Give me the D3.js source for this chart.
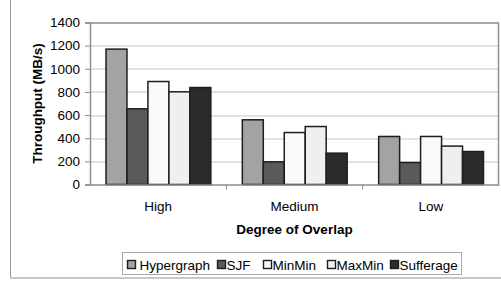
<!DOCTYPE html>
<html>
<head>
<meta charset="utf-8">
<script src="https://cdn.jsdelivr.net/npm/d3@7"></script>
<style>
  body { margin: 0; background: #fff; }
  svg text { font-family: "Liberation Sans", Arial, sans-serif; fill: #000; }
</style>
</head>
<body>
<svg id="chart" width="501" height="283"></svg>
<script>
// data
var categories = ["High", "Medium", "Low"];
var seriesNames = ["Hypergraph", "SJF", "MinMin", "MaxMin", "Sufferage"];
var hypergraph = [1170, 559, 415];
var sjf = [654, 196, 190];
var minmin = [890, 449, 415];
var maxmin = [801, 501, 332];
var sufferage = [838, 271, 285];
var yTicks = [0, 200, 400, 600, 800, 1000, 1200, 1400];

var series = [hypergraph, sjf, minmin, maxmin, sufferage];
var colors = ["#a3a3a3", "#5a5a5a", "#f9f9f9", "#efefef", "#2b2b2b"];

var margin = {left: 90, top: 22.5, right: 2, bottom: 98.5},
    width = 501, height = 283,
    g_width = width - margin.left - margin.right,
    g_height = height - margin.top - margin.bottom;

var svg = d3.select("#chart");

// outer frame (only left and bottom edges show)
svg.append("line").attr("x1", 10.5).attr("x2", 10.5).attr("y1", 0).attr("y2", 278)
  .attr("stroke", "#999").attr("stroke-width", 1);
svg.append("line").attr("x1", 10).attr("x2", 501).attr("y1", 278).attr("y2", 278)
  .attr("stroke", "#c8c8c8").attr("stroke-width", 2);

var g = svg.append("g").attr("transform", "translate(" + margin.left + "," + margin.top + ")");

var x0 = d3.scaleBand().domain(categories).range([0, g_width]).paddingInner(0).paddingOuter(0);
var x1 = d3.scaleBand().domain(seriesNames).range([16, x0.bandwidth() - 15.5]);
var y = d3.scaleLinear().domain([0, 1400]).range([g_height, 0]);

// gridlines
g.selectAll(".grid").data(yTicks.filter(function(d){ return d > 0 && d < 1400; }))
  .enter().append("line")
  .attr("x1", 0).attr("x2", g_width)
  .attr("y1", function(d){ return Math.round(y(d)) + 0.5; })
  .attr("y2", function(d){ return Math.round(y(d)) + 0.5; })
  .attr("stroke", "#c6c6c6").attr("stroke-width", 1.2);

// plot box top and right
g.append("path")
  .attr("d", "M0," + 0.5 + "H" + (g_width - 0.5) + "V" + g_height)
  .attr("fill", "none").attr("stroke", "#8a8a8a").attr("stroke-width", 1.4);

// bars
var groups = g.selectAll(".grp").data(categories).enter().append("g")
  .attr("transform", function(d){ return "translate(" + x0(d) + ",0)"; });

groups.selectAll("rect").data(function(c, ci){
    return seriesNames.map(function(s, si){ return {s: s, si: si, v: series[si][ci]}; });
  })
  .enter().append("rect")
  .attr("x", function(d){ return x1(d.s); })
  .attr("width", x1.bandwidth())
  .attr("y", function(d){ return y(d.v); })
  .attr("height", function(d){ return g_height - y(d.v); })
  .attr("fill", function(d){ return colors[d.si]; })
  .attr("stroke", "#1e1e1e").attr("stroke-width", 1.5);

// y axis
var yAxis = g.append("g").call(d3.axisLeft(y).tickValues(yTicks).tickFormat(d3.format("d")).tickSize(5).tickPadding(5));
yAxis.select(".domain").attr("stroke", "#8a8a8a").attr("stroke-width", 1.4);
yAxis.selectAll(".tick line").attr("stroke", "#8a8a8a");
yAxis.selectAll("text").style("font-size", "13.5px").attr("fill", "#000");

// x axis
var xAxis = g.append("g").attr("transform", "translate(0," + g_height + ")")
  .call(d3.axisBottom(x0).tickSize(0).tickPadding(17));
xAxis.select(".domain").attr("stroke", "#8a8a8a").attr("stroke-width", 1.4);
xAxis.selectAll("text").style("font-size", "13.5px").attr("fill", "#000");
// category separators
xAxis.selectAll(".sep").data(categories.slice(1)).enter().append("line")
  .attr("x1", function(d){ return x0(d); }).attr("x2", function(d){ return x0(d); })
  .attr("y1", 0).attr("y2", 5).attr("stroke", "#8a8a8a");

// titles
svg.append("text").attr("transform", "translate(42," + (margin.top + g_height / 2) + ") rotate(-90)")
  .attr("text-anchor", "middle").style("font-size", "13.5px").style("font-weight", "bold")
  .text("Throughput (MB/s)");
svg.append("text").attr("x", margin.left + g_width / 2).attr("y", 234)
  .attr("text-anchor", "middle").style("font-size", "13.5px").style("font-weight", "bold")
  .text("Degree of Overlap");

// legend
var legend = svg.append("g");
legend.append("rect").attr("x", 122.5).attr("y", 252.5).attr("width", 339).attr("height", 22)
  .attr("fill", "#fff").attr("stroke", "#a8a8a8");
var legX = [127, 217, 263, 327, 390];
var legTextDx = [12.5, 9.5, 9.5, 9.5, 9.5];
var items = legend.selectAll(".item").data(seriesNames).enter().append("g")
  .attr("transform", function(d, i){ return "translate(" + legX[i] + ",260)"; });
items.append("rect").attr("x", 0.5).attr("y", 0.5).attr("width", 8).attr("height", 8)
  .attr("fill", function(d, i){ return colors[i]; })
  .attr("stroke", "#1e1e1e").attr("stroke-width", 1.4);
items.append("text").attr("x", function(d, i){ return legTextDx[i]; }).attr("y", 9.5)
  .style("font-size", "13.5px").text(function(d){ return d; });
</script>
</body>
</html>
